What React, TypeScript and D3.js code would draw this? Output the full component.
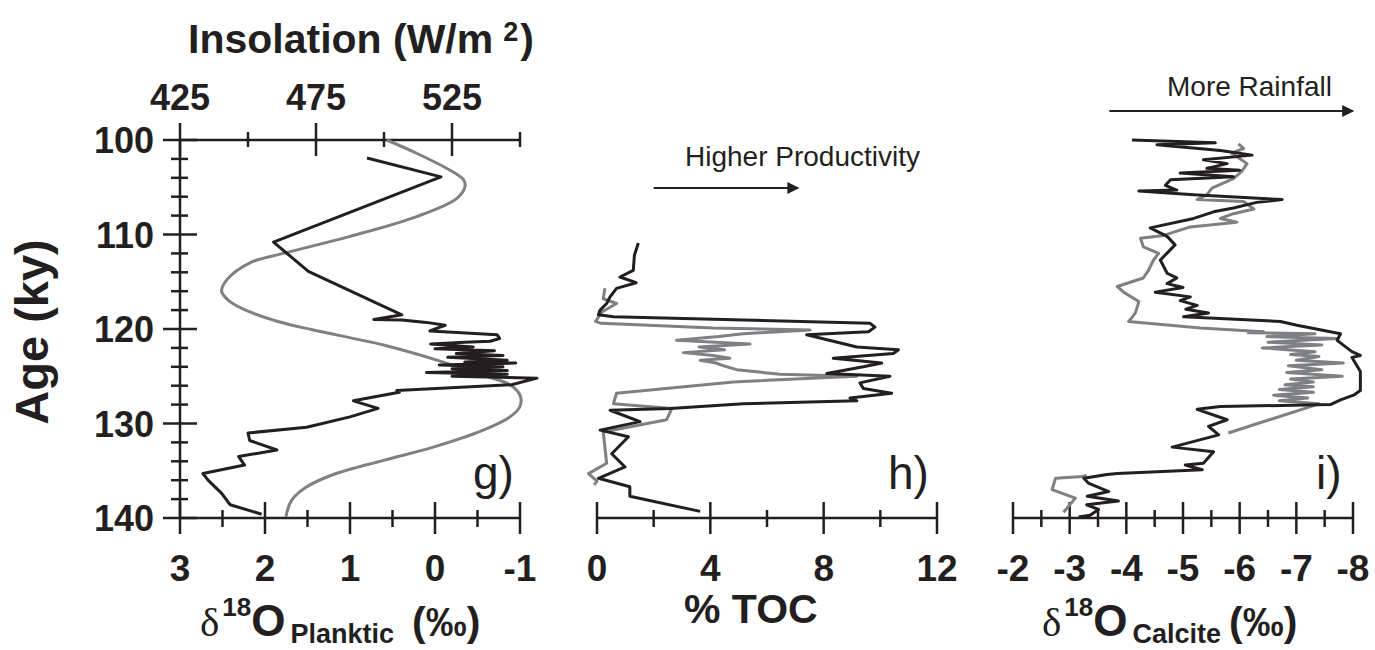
import React from "react";
import * as d3 from "d3";

// ---- data: [age (ky), value] ----
const plankticD18O: [number, number][] = [
  [101.9, 0.8], [103.9, -0.07], [110.8, 1.9], [113.9, 1.49], [118.5, 0.39],
  [119.0, 0.72], [119.05, 0.39], [119.3, 0.1], [119.6, -0.12], [120.2, 0.06],
  [120.6, -0.73], [121.0, -0.76], [121.3, -0.65], [121.4, -0.35], [121.6, 0.05],
  [121.9, -0.45], [122.1, 0.0], [122.3, -0.7], [122.6, -0.25], [122.8, -0.8],
  [123.0, -0.15], [123.3, -0.85], [123.5, -0.35], [123.6, -0.95], [123.8, -0.05],
  [124.0, -0.8], [124.2, -0.2], [124.4, -0.85], [124.6, 0.1], [124.8, -0.85],
  [125.0, -0.2], [125.2, -1.2], [125.9, -0.9], [126.5, 0.45], [126.7, 0.42],
  [127.6, 0.96], [128.4, 0.67], [129.3, 1.0], [130.4, 1.51], [131.0, 2.2],
  [131.8, 2.18], [132.8, 1.86], [133.5, 2.31], [134.4, 2.24], [135.3, 2.73],
  [136.0, 2.67], [137.4, 2.51], [138.6, 2.41], [139.6, 2.04],
];

const insolation: [number, number][] = [
  [100.0, 501.0], [101.4, 512.0], [103.2, 524.3], [104.2, 529.2], [104.9, 529.8],
  [106.2, 526.7], [108.1, 512.0], [110.2, 487.5], [112.0, 463.0], [113.0, 450.7],
  [114.8, 442.2], [116.0, 440.3], [117.1, 443.4], [118.2, 450.7], [119.2, 461.0],
  [120.1, 474.0], [121.7, 499.8], [123.5, 521.8], [124.9, 536.5], [125.9, 546.3],
  [127.0, 550.0], [128.2, 550.0], [129.3, 546.3], [130.7, 536.5], [132.5, 518.1],
  [133.9, 499.8], [135.4, 481.4], [136.7, 471.6], [138.1, 466.1], [139.5, 464.2],
  [139.9, 464.0],
];

const tocBlack: [number, number][] = [
  [110.9, 1.46], [112.2, 1.32], [113.8, 1.28], [114.5, 0.81], [115.1, 1.38],
  [115.7, 0.69], [116.6, 0.46], [117.3, 0.34], [118.0, 0.11], [118.5, 0.05],
  [118.7, 0.58], [119.4, 9.64], [119.8, 9.81], [120.3, 9.58], [120.6, 7.4],
  [121.9, 9.17], [122.2, 10.64], [122.6, 10.46], [123.1, 8.34], [123.6, 10.05],
  [124.0, 9.4], [124.7, 8.11], [125.0, 10.34], [125.7, 9.28], [126.3, 9.4],
  [126.8, 10.4], [127.3, 8.93], [127.6, 9.17], [127.9, 5.16], [128.4, 2.58],
  [128.6, 0.46], [129.8, 1.52], [130.7, 0.11], [131.4, 1.11], [133.2, 0.52],
  [134.6, 0.99], [135.8, 0.05], [136.7, 1.16], [137.7, 1.16], [139.3, 3.64],
];

const tocGray: [number, number][] = [
  [115.7, 0.28], [116.8, 0.22], [117.3, 0.69], [118.2, 0.17], [119.2, -0.05],
  [119.4, 0.15], [119.9, 4.1], [120.1, 7.52], [120.5, 5.16], [120.8, 4.3],
  [121.2, 2.81], [121.6, 5.4], [121.9, 3.6], [122.2, 4.5], [122.5, 3.05],
  [122.8, 4.1], [123.1, 4.69], [123.3, 3.64], [123.6, 4.2], [124.0, 4.58],
  [124.3, 4.93], [124.8, 6.46], [125.0, 9.17], [125.6, 4.81], [126.8, 0.69],
  [127.9, 0.58], [128.4, 2.64], [129.6, 2.46], [130.9, 0.22], [134.2, 0.34],
  [135.3, -0.3], [136.1, 0.0], [136.5, -0.1],
];

const calciteBlack: [number, number][] = [
  [100.0, -4.1], [100.3, -5.57], [100.5, -4.54], [101.1, -5.66], [101.6, -6.22],
  [102.1, -5.36], [102.5, -5.78], [103.0, -5.42], [103.2, -6.0], [103.5, -4.95],
  [103.9, -5.89], [104.2, -4.78], [104.8, -4.69], [105.3, -4.89], [105.4, -4.22],
  [105.8, -5.19], [106.3, -6.75], [106.6, -6.3], [107.2, -5.89], [107.6, -5.54],
  [108.3, -5.19], [109.3, -4.42], [110.2, -4.72], [111.1, -4.86], [112.7, -4.6],
  [114.1, -4.72], [114.6, -4.89], [115.2, -4.72], [115.6, -5.0], [116.1, -4.51],
  [116.6, -5.13], [117.0, -4.95], [117.5, -5.25], [117.9, -5.05], [118.3, -5.45],
  [118.7, -5.01], [119.2, -6.72], [119.6, -7.01], [120.5, -7.78], [121.2, -7.72],
  [122.4, -7.98], [122.8, -8.13], [123.0, -7.98], [124.5, -8.13], [126.5, -8.13],
  [127.0, -8.01], [127.5, -7.78], [128.0, -7.6], [128.2, -5.66], [128.5, -5.25],
  [129.6, -5.78], [130.3, -5.45], [131.2, -5.63], [132.5, -4.81], [133.0, -5.54],
  [134.2, -5.36], [134.4, -5.04], [134.9, -5.34], [135.3, -3.84], [135.4, -3.66],
  [135.8, -3.25], [136.3, -3.33], [137.2, -3.69], [137.7, -3.31], [138.2, -3.86],
  [138.6, -3.3], [139.1, -3.51], [139.7, -3.36], [139.9, -3.16],
];

const calciteGray: [number, number][] = [
  [100.4, -5.98], [100.9, -6.07], [101.4, -5.86], [102.5, -6.13], [103.3, -6.04],
  [104.1, -5.89], [105.1, -5.51], [105.8, -5.42], [106.3, -5.25], [106.5, -6.07],
  [107.3, -6.25], [107.8, -5.89], [108.3, -5.66], [108.7, -5.95], [109.2, -5.13],
  [110.1, -4.66], [110.4, -4.25], [111.3, -4.3], [112.0, -4.57], [112.7, -4.48],
  [113.8, -4.39], [114.6, -4.3], [115.5, -3.84], [116.1, -3.95], [117.1, -4.22],
  [118.3, -4.16], [119.0, -4.07], [119.2, -4.04], [119.9, -5.31], [120.3, -6.42],
  [120.4, -6.15], [120.5, -7.33], [120.8, -6.48], [121.0, -7.72], [121.4, -6.5],
  [121.7, -7.45], [122.0, -6.4], [122.4, -7.33], [122.7, -6.9], [122.9, -7.4],
  [123.3, -7.0], [123.6, -7.83], [123.9, -6.86], [124.3, -7.45], [124.6, -6.83],
  [125.0, -7.81], [125.3, -6.9], [125.6, -7.3], [125.9, -6.8], [126.1, -7.3],
  [126.4, -6.7], [126.7, -7.3], [127.0, -6.6], [127.3, -7.2], [127.6, -6.7],
  [127.9, -7.4], [128.0, -7.36], [131.0, -5.8],
  [133.0, NaN],
  [135.5, -3.3], [135.6, -3.22], [135.8, -2.75], [137.0, -2.69], [137.9, -3.1],
  [139.4, -2.89],
];

// ---- ticks ----
const ageMajor = [100, 110, 120, 130, 140];
const ageMinor = d3.range(102, 140, 2).filter((a) => a % 10 !== 0);
const insMajor = [425, 475, 525];
const insMinor = [450, 500, 550];
const gMajor = [3, 2, 1, 0, -1];
const gMinor = [2.5, 1.5, 0.5, -0.5];
const hMajor = [0, 4, 8, 12];
const hMinor = [2, 6, 10];
const iMajor = [-2, -3, -4, -5, -6, -7, -8];
const iMinor = [-2.5, -3.5, -4.5, -5.5, -6.5, -7.5];

// arrows, in data units of their panels
const productivityArrow = [2, 7.1];
const rainfallArrow = [-3.7, -8];

const FONT = '"Liberation Sans", Arial, Helvetica, sans-serif';
const SERIF = '"Liberation Serif", "Times New Roman", serif';
const INK = "#231f20";
const GRAY = "#7f8083";

const yAge = d3.scaleLinear().domain([100, 140]).range([140, 518]);
const xG = d3.scaleLinear().domain([3, -1]).range([180, 520]);
const xIns = d3.scaleLinear().domain([425, 550]).range([180, 520]);
const xH = d3.scaleLinear().domain([0, 12]).range([597, 937]);
const xI = d3.scaleLinear().domain([-2, -8]).range([1013, 1353]);

function pathFor(data: [number, number][], x: d3.ScaleLinear<number, number>, curve?: d3.CurveFactory) {
  const gen = d3
    .line<[number, number]>()
    .defined((d) => !isNaN(d[1]))
    .x((d) => x(d[1]))
    .y((d) => yAge(d[0]));
  if (curve) gen.curve(curve);
  return gen(data) || "";
}

function BottomAxis({ x, major, minor }: { x: d3.ScaleLinear<number, number>; major: number[]; minor: number[] }) {
  const y0 = yAge(140);
  const [a, b] = x.range();
  return (
    <g stroke={INK} strokeWidth={2.5}>
      <line x1={a} x2={b} y1={y0} y2={y0} />
      {major.map((v) => (
        <line key={"M" + v} x1={x(v)} x2={x(v)} y1={y0 - 16} y2={y0 + 16} />
      ))}
      {minor.map((v) => (
        <line key={"m" + v} x1={x(v)} x2={x(v)} y1={y0 - 8} y2={y0 + 9} />
      ))}
      {major.map((v) => (
        <text
          key={"t" + v}
          x={x(v)}
          y={581}
          stroke="none"
          fill={INK}
          fontSize={37}
          fontWeight="bold"
          textAnchor="middle"
          fontFamily={FONT}
        >
          {v}
        </text>
      ))}
    </g>
  );
}

function DeltaTitle({ x, sub, gap }: { x: number; sub: string; gap: number }) {
  return (
    <text x={x} y={636} fill={INK}>
      <tspan fontFamily={SERIF} fontSize={41}>δ</tspan>
      <tspan fontSize={26} fontWeight="bold" dx={3} dy={-20}>18</tspan>
      <tspan fontSize={44} fontWeight="bold" dy={20}>O</tspan>
      <tspan fontSize={27} fontWeight="bold" dx={5} dy={7}>{sub}</tspan>
      <tspan fontSize={41} fontWeight="bold" dx={gap} dy={-7}>(‰)</tspan>
    </text>
  );
}

export default function App() {
  const ax = 180;
  const topY = yAge(100);
  return (
    <svg
      width={1375}
      height={650}
      style={{ position: "absolute", left: 0, top: 0, background: "#fff" }}
      fontFamily={FONT}
    >
      <defs>
        <marker id="head" viewBox="0 0 10 10" refX="9" refY="5" markerWidth="7" markerHeight="6" orient="auto" markerUnits="strokeWidth">
          <path d="M0,0 L10,5 L0,10 z" fill={INK} />
        </marker>
      </defs>

      {/* insolation title and top axis */}
      <text x={188} y={53} fontSize={41} fontWeight="bold" fill={INK}>
        Insolation (W/m
        <tspan dx={10} dy={-12} fontSize={27}>2</tspan>
        <tspan dy={12} dx={2}>)</tspan>
      </text>
      <g stroke={INK} strokeWidth={2.5}>
        <line x1={xIns(425)} x2={xIns(550)} y1={topY} y2={topY} />
        {insMajor.map((v) => (
          <line key={v} x1={xIns(v)} x2={xIns(v)} y1={topY - 17} y2={topY + 16} />
        ))}
        {insMinor.map((v) => (
          <line key={v} x1={xIns(v)} x2={xIns(v)} y1={topY - 8} y2={topY + 7} />
        ))}
      </g>
      {insMajor.map((v) => (
        <text key={v} x={xIns(v)} y={110} fontSize={36} fontWeight="bold" textAnchor="middle" fill={INK}>
          {v}
        </text>
      ))}

      {/* age axis */}
      <g stroke={INK} strokeWidth={2.5}>
        <line x1={ax} x2={ax} y1={yAge(100)} y2={yAge(140)} />
        {ageMajor.map((a) => (
          <line key={a} x1={ax - 17} x2={ax + 17} y1={yAge(a)} y2={yAge(a)} />
        ))}
        {ageMinor.map((a) => (
          <line key={a} x1={ax - 9} x2={ax + 8} y1={yAge(a)} y2={yAge(a)} />
        ))}
      </g>
      {ageMajor.map((a) => (
        <text key={a} x={154} y={yAge(a) + 13} fontSize={36} fontWeight="bold" textAnchor="end" fill={INK}>
          {a}
        </text>
      ))}
      <text transform={`translate(48,332) rotate(-90)`} fontSize={47} fontWeight="bold" textAnchor="middle" fill={INK}>
        Age (ky)
      </text>

      {/* bottom axes */}
      <BottomAxis x={xG} major={gMajor} minor={gMinor} />
      <BottomAxis x={xH} major={hMajor} minor={hMinor} />
      <BottomAxis x={xI} major={iMajor} minor={iMinor} />

      {/* curves */}
      <g fill="none" strokeWidth={3} strokeLinejoin="round">
        <path d={pathFor(insolation, xIns, d3.curveCatmullRom)} stroke={GRAY} />
        <path d={pathFor(plankticD18O, xG)} stroke={INK} />
        <path d={pathFor(tocGray, xH)} stroke={GRAY} />
        <path d={pathFor(tocBlack, xH)} stroke={INK} />
        <path d={pathFor(calciteGray, xI)} stroke={GRAY} />
        <path d={pathFor(calciteBlack, xI)} stroke={INK} />
      </g>

      {/* annotations */}
      <text x={685} y={166} fontSize={28} fill={INK}>Higher Productivity</text>
      <line
        x1={xH(productivityArrow[0])}
        x2={xH(productivityArrow[1])}
        y1={188}
        y2={188}
        stroke={INK}
        strokeWidth={2}
        markerEnd="url(#head)"
      />
      <text x={1167} y={96} fontSize={28} fill={INK}>More Rainfall</text>
      <line
        x1={xI(rainfallArrow[0])}
        x2={xI(rainfallArrow[1])}
        y1={111}
        y2={111}
        stroke={INK}
        strokeWidth={2}
        markerEnd="url(#head)"
      />

      {/* panel letters */}
      <text x={473} y={489} fontSize={46} fill={INK}>g)</text>
      <text x={888} y={489} fontSize={46} fill={INK}>h)</text>
      <text x={1316} y={489} fontSize={46} fill={INK}>i)</text>

      {/* axis titles */}
      <DeltaTitle x={200} sub="Planktic" gap={18} />
      <text x={684} y={623} fontSize={41} fontWeight="bold" fill={INK}>% TOC</text>
      <DeltaTitle x={1042} sub="Calcite" gap={8} />
    </svg>
  );
}
